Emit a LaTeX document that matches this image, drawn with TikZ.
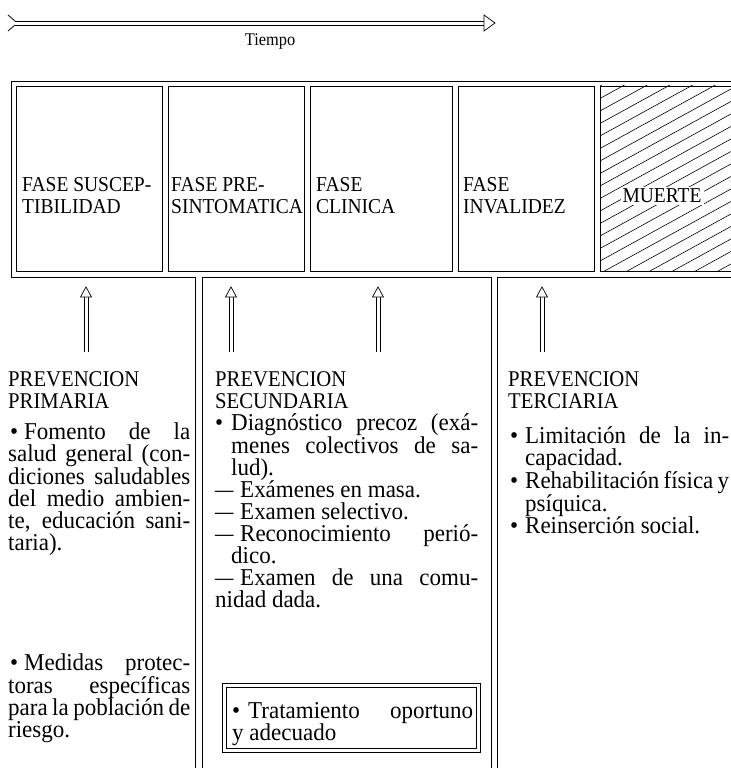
\documentclass[tikz,border=0pt]{standalone}
\usepackage{fontspec}
\setmainfont[FakeStretch=0.92]{Liberation Serif}
\newfontfamily\cuerpofont[FakeStretch=0.95,Ligatures=TeX]{Liberation Serif}
\usetikzlibrary{positioning}
\newcommand{\flecha}[2]{%
  \draw[asta] ([xshift=-2pt]#1) -- ([xshift=-2pt,yshift=-10pt]#2);
  \draw[asta] ([xshift=2pt]#1) -- ([xshift=2pt,yshift=-10pt]#2);
  \draw[punta] (#2) -- ++(-5.5,10) -- ++(11,0) -- cycle;}
\newcommand{\sangria}[1]{\hangindent=#1\hangafter=1\relax}
\newcommand{\pto}[1]{\makebox[#1][l]{\textbullet}}
\newcommand{\raya}{\makebox[25pt][l]{\scalebox{0.8}[1]{—}}}
\tikzset{
  marco/.style={line width=0.8pt},
  fase/.style={draw,line width=0.8pt,anchor=north west,
    minimum height=185pt,inner sep=0pt},
  rotfase/.style={anchor=base west,align=left,inner sep=0pt,
    font=\fontsize{21.2}{22}\selectfont},
  rotulo/.style={anchor=base,inner sep=0pt,font=\fontsize{17.8}{20}\selectfont},
  asta/.style={line width=0.7pt},
  punta/.style={line width=0.7pt,fill=white},
  encab/.style={anchor=base west,align=left,inner sep=0pt,
    font=\fontsize{22.5}{22}\selectfont},
  cuerpo/.style={anchor=base west,align=justify,inner sep=0pt,
    font=\cuerpofont\fontsize{24.2}{22}\selectfont},
  trat/.style={draw,line width=0.7pt,anchor=north west,inner sep=0pt,
    minimum width=258pt,minimum height=69pt},
  rayado/.style={line width=0.6pt},
}
\begin{document}
\begin{tikzpicture}[x=1pt,y=-1pt]
\useasboundingbox (0,0) rectangle (730,783);
\coordinate (t0) at (15,23);
\coordinate (t1) at (495,23);
\draw[asta] ([yshift=2pt]t0) -- ([xshift=-11pt,yshift=2pt]t1);
\draw[asta] ([yshift=-2pt]t0) -- ([xshift=-11pt,yshift=-2pt]t1);
\draw[punta] (t1) -- ++(-11,-8) -- ++(0,16) -- cycle;
\draw[marco] (t0) ++(0,-2) -- ++(-7,-6);
\draw[marco] (t0) ++(0,2) -- ++(-7,6);
\node[rotulo] (tiempo) at (270,46) {Tiempo};
\node[fase,minimum width=146pt] (susc) at (16,86) {};
\node[fase,minimum width=136pt] (presint) at (168,86) {};
\node[fase,minimum width=142pt] (clin) at (310,86) {};
\node[fase,minimum width=136pt] (inval) at (458,86) {};
\node[fase,minimum width=140pt] (muerte) at (600,86) {};
\begin{scope}
\clip (muerte.south west) rectangle (muerte.north east);
\foreach \k in {0,...,22}
  \draw[rayado] (600,86+12.5*\k) -- ++(150,-82.5);
\end{scope}
\node[rotfase,fill=white,inner sep=2pt,anchor=center] (muertet) at (662,196) {MUERTE};
\node[rotfase] (susct) at (22,214) {FASE SUSCEP-\\TIBILIDAD};
\node[rotfase] (presintt) at (171,214) {FASE PRE-\\SINTOMATICA};
\node[rotfase] (clint) at (316,214) {FASE\\CLINICA};
\node[rotfase] (invalt) at (463,214) {FASE\\INVALIDEZ};
\draw[marco] (735,81) -- (11,81) -- (11,277) -- (195,277) -- (195,768);
\draw[marco] (202,768) -- (202,277) -- (491,277) -- (491,768);
\draw[marco] (497,768) -- (497,277) -- (735,277);
\coordinate (p1) at (86,352);
\coordinate (p1t) at (86,287);
\coordinate (p2) at (231,352);
\coordinate (p2t) at (231,287);
\coordinate (p3) at (378,352);
\coordinate (p3t) at (378,287);
\coordinate (p4) at (542,352);
\coordinate (p4t) at (542,287);
\flecha{p1}{p1t}
\flecha{p2}{p2t}
\flecha{p3}{p3t}
\flecha{p4}{p4t}
\node[encab] (prim) at (8,408) {PREVENCION\\PRIMARIA};
\node[encab] (secun) at (215,408) {PREVENCION\\SECUNDARIA};
\node[encab] (terc) at (508,408) {PREVENCION\\TERCIARIA};
\node[cuerpo,text width=182pt] (primtxt) at (8,439) {\hspace*{2pt}\pto{14pt}Fomento de la\linebreak salud general (con-\linebreak diciones saludables\linebreak del medio ambien-\linebreak te, educación sani-\linebreak taria).};
\node[cuerpo,text width=182pt] (primtxtb) at (8,670) {\hspace*{2pt}\pto{14pt}Medidas protec-\linebreak toras específicas\linebreak para la población de\linebreak riesgo.};
\node[cuerpo,text width=263pt] (sectxt) at (215,430) {%
\sangria{16pt}\pto{16pt}Diagnóstico precoz (exá-\linebreak menes colectivos de sa-\linebreak lud).\par
\sangria{16pt}\raya Exámenes en masa.\par
\sangria{16pt}\raya Examen selectivo.\par
\sangria{16pt}\raya Reconocimiento perió-\linebreak dico.\par
\sangria{16pt}\raya Examen de una comu-\linebreak nidad dada.};
\node[trat] (tratam) at (222,683) {};
\draw[asta] ([shift={(4,4)}]tratam.north west) rectangle ([shift={(-4,-4)}]tratam.south east);
\node[cuerpo,text width=241pt] (tratamt) at (232,718) {\sangria{16pt}\pto{16pt}Tratamiento oportuno\linebreak y adecuado};
\node[cuerpo,text width=221pt] (tertxt) at (508,443) {%
\sangria{17pt}\hspace*{2pt}\pto{15pt}Limitación de la in-\linebreak capacidad.\par
\sangria{17pt}\hspace*{2pt}\pto{15pt}Rehabilitación física y\linebreak psíquica.\par
\sangria{17pt}\hspace*{2pt}\pto{15pt}Reinserción social.};
\end{tikzpicture}
\end{document}
